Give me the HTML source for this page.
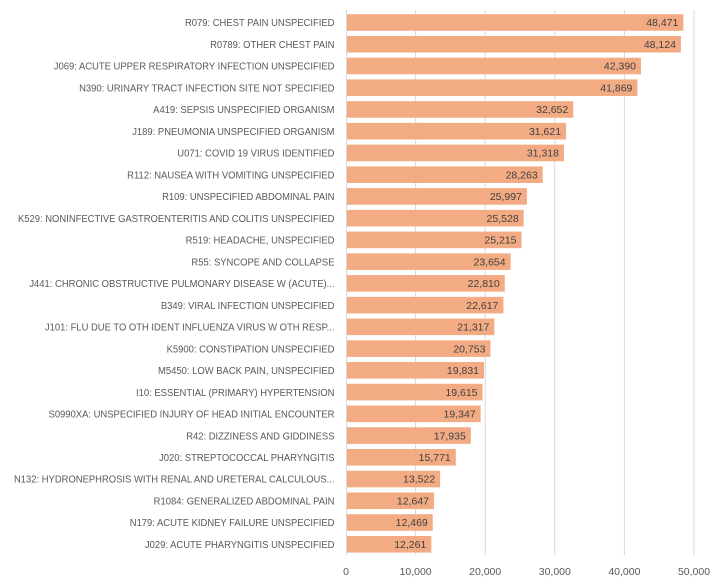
<!DOCTYPE html>
<html><head><meta charset="utf-8"><style>
html,body{margin:0;padding:0;background:#fff;}
svg{display:block;font-family:"Liberation Sans",Arial,sans-serif;}
</style></head><body>
<svg width="718" height="580" viewBox="0 0 718 580">
<g stroke="#d9d9d9" stroke-width="1">
<line x1="415.6" y1="10" x2="415.6" y2="555"/>
<line x1="485.2" y1="10" x2="485.2" y2="555"/>
<line x1="554.8" y1="10" x2="554.8" y2="555"/>
<line x1="624.4" y1="10" x2="624.4" y2="555"/>
<line x1="694" y1="10" x2="694" y2="555"/>
</g>
<g id="bars"></g>
<line x1="346.5" y1="10" x2="346.5" y2="555" stroke="#d9d9d9"/>
<g fill="#595959" font-size="10.5" text-anchor="middle">
<text x="346" y="575">0</text><text x="415.6" y="575">10,000</text><text x="485.2" y="575">20,000</text><text x="554.8" y="575">30,000</text><text x="624.4" y="575">40,000</text><text x="694" y="575">50,000</text>
</g>
</svg>
<script>
const d=[["R079: CHEST PAIN UNSPECIFIED",48471],["R0789: OTHER CHEST PAIN",48124],["J069: ACUTE UPPER RESPIRATORY INFECTION UNSPECIFIED",42390],["N390: URINARY TRACT INFECTION SITE NOT SPECIFIED",41869],["A419: SEPSIS UNSPECIFIED ORGANISM",32652],["J189: PNEUMONIA UNSPECIFIED ORGANISM",31621],["U071: COVID 19 VIRUS IDENTIFIED",31318],["R112: NAUSEA WITH VOMITING UNSPECIFIED",28263],["R109: UNSPECIFIED ABDOMINAL PAIN",25997],["K529: NONINFECTIVE GASTROENTERITIS AND COLITIS UNSPECIFIED",25528],["R519: HEADACHE, UNSPECIFIED",25215],["R55: SYNCOPE AND COLLAPSE",23654],["J441: CHRONIC OBSTRUCTIVE PULMONARY DISEASE W (ACUTE)...",22810],["B349: VIRAL INFECTION UNSPECIFIED",22617],["J101: FLU DUE TO OTH IDENT INFLUENZA VIRUS W OTH RESP...",21317],["K5900: CONSTIPATION UNSPECIFIED",20753],["M5450: LOW BACK PAIN, UNSPECIFIED",19831],["I10: ESSENTIAL (PRIMARY) HYPERTENSION",19615],["S0990XA: UNSPECIFIED INJURY OF HEAD INITIAL ENCOUNTER",19347],["R42: DIZZINESS AND GIDDINESS",17935],["J020: STREPTOCOCCAL PHARYNGITIS",15771],["N132: HYDRONEPHROSIS WITH RENAL AND URETERAL CALCULOUS...",13522],["R1084: GENERALIZED ABDOMINAL PAIN",12647],["N179: ACUTE KIDNEY FAILURE UNSPECIFIED",12469],["J029: ACUTE PHARYNGITIS UNSPECIFIED",12261]];
let s="";
d.forEach((r,i)=>{const y=14.2+i*21.74;const w=r[1]*348/50000;const cy=y+8.3+3.7;
s+=`<rect x="347" y="${y}" width="${w-1}" height="16.6" fill="#f3ab84"/>`;
s+=`<text x="${346+w-5}" y="${cy}" font-size="10.5" fill="#404040" text-anchor="end">${r[1].toLocaleString('en-US')}</text>`;
s+=`<g transform="translate(334.5,${cy}) scale(0.9,1)"><text x="0" y="0" font-size="10.5" fill="#595959" text-anchor="end">${r[0]}</text></g>`;});
document.getElementById("bars").innerHTML=s;
</script>
</body></html>
